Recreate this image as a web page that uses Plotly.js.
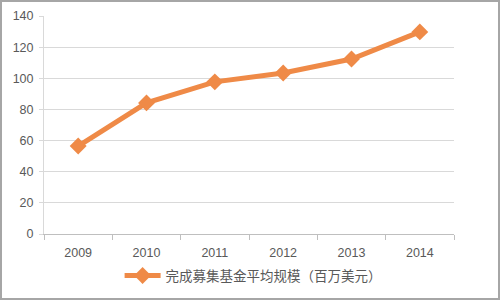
<!DOCTYPE html>
<html>
<head>
<meta charset="utf-8">
<script src="https://cdn.plot.ly/plotly-3.0.1.min.js"></script>
<style>
html,body{margin:0;padding:0;background:#fff;}
#frame{width:500px;height:300px;box-sizing:border-box;border:2px solid #a6a6a6;background:#fff;}
#chart{width:496px;height:296px;}
</style>
</head>
<body>
<div id="frame"><div id="chart"></div></div>
<script>
const years = ['2009','2010','2011','2012','2013','2014'];
const avgSize = [56.5, 84.2, 97.7, 103.4, 112.4, 129.8];
const seriesName = '完成募集基金平均规模（百万美元）';
const yTicks = [0,20,40,60,80,100,120,140];

const orange = '#EF8A47';
const textColor = '#595959';
const gridColor = '#d9d9d9';

Plotly.newPlot('chart', [{
  type: 'scatter',
  mode: 'lines+markers',
  x: years,
  y: avgSize,
  name: seriesName,
  line: {color: orange, width: 5},
  marker: {symbol: 'diamond', size: 13, color: orange},
  showlegend: true
}], {
  width: 496,
  height: 296,
  margin: {l: 42, r: 44, t: 14, b: 64, autoexpand: false},
  paper_bgcolor: '#fff',
  plot_bgcolor: '#fff',
  font: {family: 'Liberation Sans, Arial, sans-serif', size: 12.5, color: textColor},
  xaxis: {
    type: 'category',
    range: [-0.5, 5.5],
    tickson: 'boundaries',
    ticks: 'outside',
    ticklen: 5,
    tickcolor: '#bfbfbf',
    showline: true,
    linecolor: '#bfbfbf',
    linewidth: 1,
    showgrid: false,
    ticklabelstandoff: 7,
    tickfont: {family: 'Liberation Sans, Arial, sans-serif', size: 12.5, color: textColor},
    fixedrange: true
  },
  yaxis: {
    range: [0, 140],
    tickvals: yTicks,
    ticks: 'outside',
    ticklen: 4,
    tickcolor: gridColor,
    showline: true,
    linecolor: gridColor,
    showgrid: true,
    gridcolor: gridColor,
    zeroline: false,
    ticklabelstandoff: 3,
    tickfont: {family: 'Liberation Sans, Arial, sans-serif', size: 12.5, color: textColor},
    fixedrange: true
  },
  showlegend: true,
  legend: {
    orientation: 'h',
    xref: 'paper', x: 0.51, xanchor: 'center',
    yref: 'container', y: 0.075, yanchor: 'middle',
    itemwidth: 36,
    font: {family: 'Noto Sans CJK SC, sans-serif', size: 13.5, color: textColor},
    bgcolor: 'rgba(0,0,0,0)'
  }
}, {displayModeBar: false, staticPlot: true});
</script>
</body>
</html>
